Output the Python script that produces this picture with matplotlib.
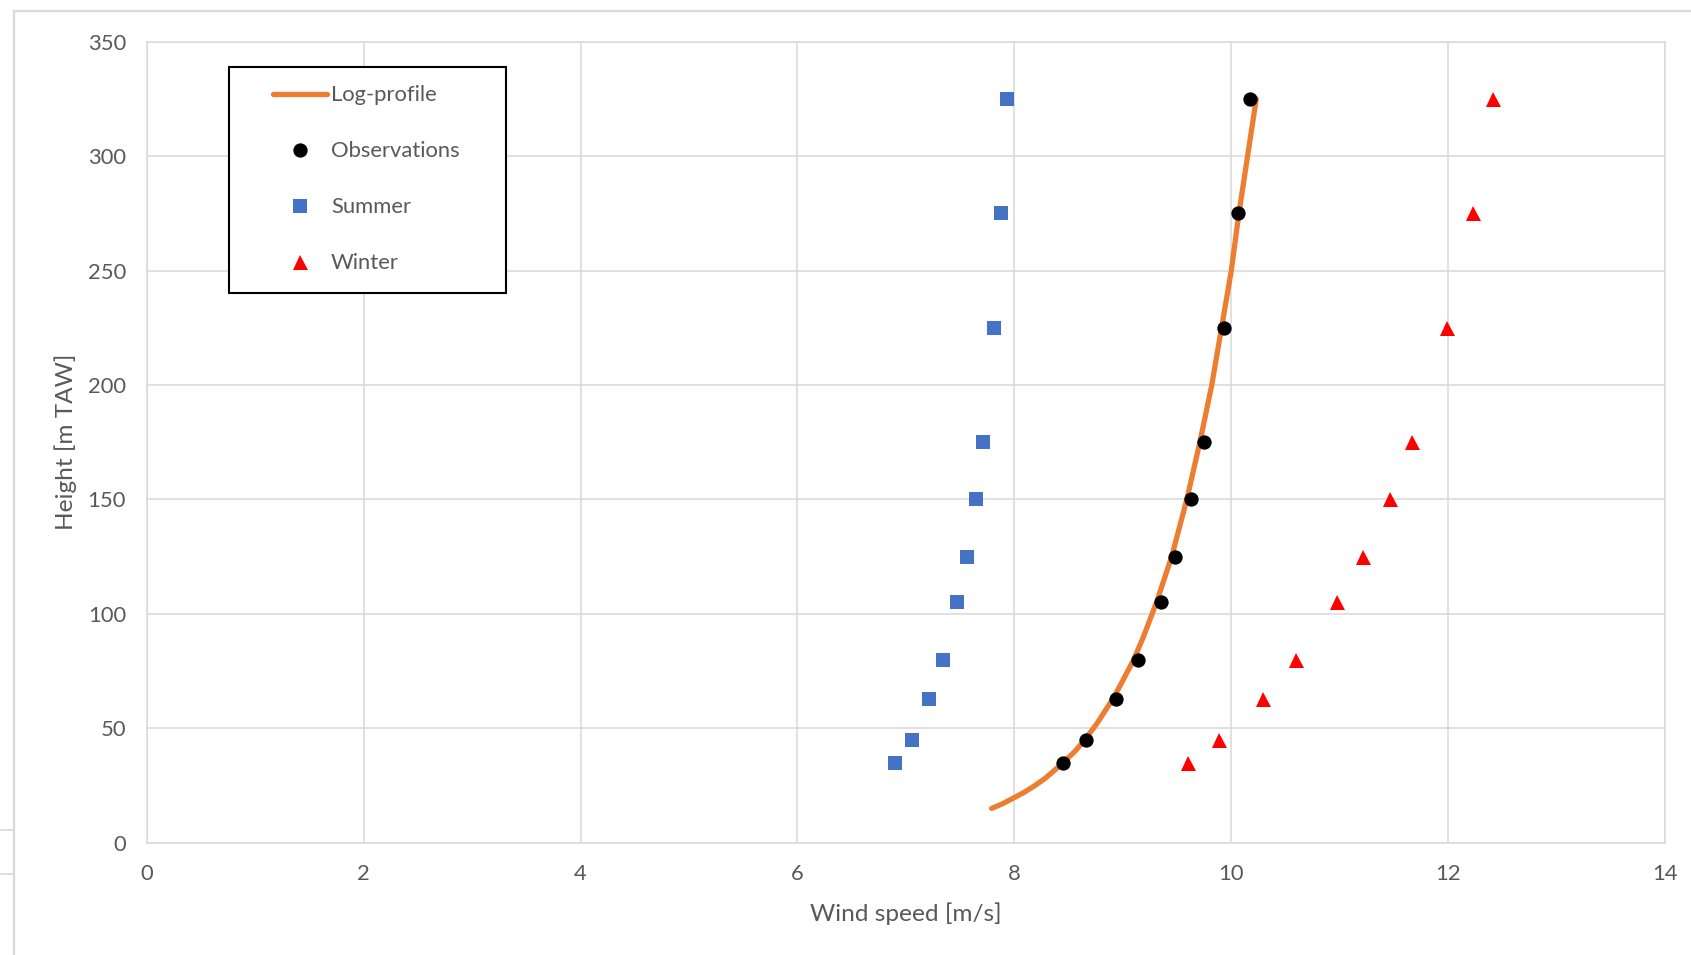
import matplotlib.pyplot as plt
from matplotlib.patches import Rectangle
from matplotlib.lines import Line2D

# heights of the measurement levels [m TAW]
heights = [35, 45, 63, 80, 105, 125, 150, 175, 225, 275, 325]
obs = [8.45, 8.66, 8.94, 9.14, 9.35, 9.48, 9.63, 9.75, 9.93, 10.06, 10.17]
summer = [6.90, 7.06, 7.21, 7.34, 7.47, 7.56, 7.65, 7.71, 7.81, 7.88, 7.93]
winter = [9.60, 9.89, 10.29, 10.60, 10.97, 11.21, 11.46, 11.67, 11.99, 12.23, 12.41]

# log-profile curve
log_z = [15, 17, 20, 22, 25, 28, 30, 35, 40, 45, 52, 63, 70, 80, 90, 105, 115, 125, 150,
         175, 200, 225, 250, 275, 300, 325]
log_u = [7.79, 7.89, 8.01, 8.09, 8.19, 8.28, 8.33, 8.45, 8.56, 8.65, 8.76, 8.91, 8.99,
         9.10, 9.19, 9.31, 9.38, 9.45, 9.59, 9.71, 9.82, 9.91, 10.00, 10.07, 10.15, 10.23]

x_ticks = [0, 2, 4, 6, 8, 10, 12, 14]
y_ticks = [0, 50, 100, 150, 200, 250, 300, 350]

plt.rcParams['font.family'] = ['Lato', 'DejaVu Sans']
txt = '#595959'
grid = '#D9D9D9'

fig = plt.figure(figsize=(16.91, 9.55), dpi=100)
ax = fig.add_axes([0.0868, 0.1176, 0.8979, 0.8387])

ax.plot(log_u, log_z, color='#ED7D31', lw=3.8, solid_capstyle='round', zorder=3, label='Log-profile')
ax.plot(obs, heights, 'o', color='black', ms=10.3, mew=0, zorder=4, label='Observations')
ax.plot(summer, heights, 's', color='#4472C4', ms=10.3, mew=0, zorder=4, label='Summer')
ax.plot(winter, heights, '^', color='#FF0000', ms=10.8, mew=0, zorder=4, label='Winter')

ax.set_xlim(0, 14)
ax.set_ylim(0, 350)
ax.set_xticks(x_ticks)
ax.set_yticks(y_ticks)
ax.grid(True, color=grid, lw=1.1)
ax.set_axisbelow(True)
for s in ax.spines.values():
    s.set_color(grid)
    s.set_linewidth(1.1)
ax.tick_params(length=0, labelsize=15.8, labelcolor=txt)
ax.tick_params(axis='y', pad=15)
ax.tick_params(axis='x', pad=15)

ax.set_xlabel('Wind speed [m/s]', fontsize=17.6, color=txt, va='center')
ax.xaxis.set_label_coords(0.5, -0.089)
ax.set_ylabel('Height [m TAW]', fontsize=17.6, color=txt, va='center')
ax.yaxis.set_label_coords(-0.0531, 0.5)

# legend box
box = Rectangle((0.0539, 0.6866), 0.183, 0.2822, transform=ax.transAxes,
                facecolor='white', edgecolor='black', lw=1.5, zorder=6, clip_on=False)
ax.add_patch(box)
leg = ax.legend(loc='upper left', bbox_to_anchor=(0.0832, 0.9455), bbox_transform=ax.transAxes,
                frameon=False, fontsize=15.8, labelcolor=txt, borderpad=0, borderaxespad=0,
                handlelength=2.45, handletextpad=0.19, labelspacing=1.64, markerscale=1.0)
leg.set_zorder(7)

# outer chart frame of the screenshot
fig.add_artist(Line2D([13.5 / 1691, 13.5 / 1691], [0, 1 - 11 / 955], color=grid, lw=1.6))
fig.add_artist(Line2D([13.5 / 1691, 1], [1 - 11 / 955, 1 - 11 / 955], color=grid, lw=1.6))
fig.add_artist(Line2D([0, 13.5 / 1691], [1 - 830 / 955, 1 - 830 / 955], color=grid, lw=1.2))
fig.add_artist(Line2D([0, 13.5 / 1691], [1 - 874 / 955, 1 - 874 / 955], color=grid, lw=1.2))

fig.savefig('out.png', dpi=100)
